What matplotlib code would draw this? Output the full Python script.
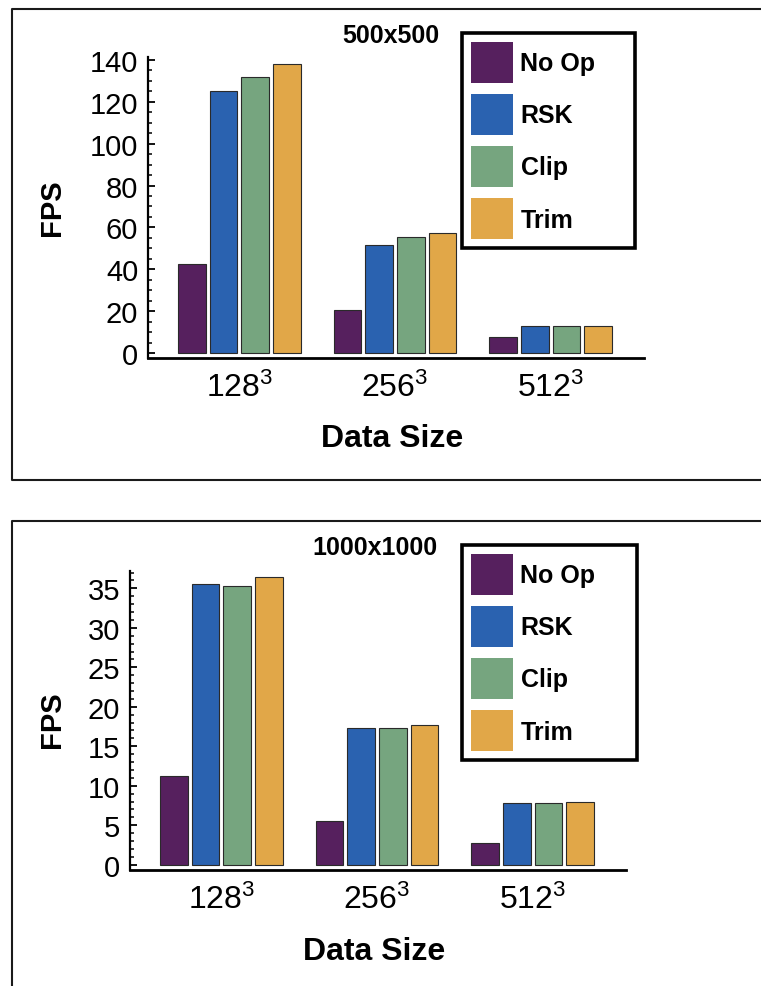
import matplotlib
matplotlib.use("Agg")
import matplotlib.pyplot as plt
import numpy as np
from matplotlib.patches import Patch
from matplotlib.lines import Line2D
from matplotlib.ticker import MultipleLocator

# ---- data ----
categories = [r'$\mathregular{128^3}$', r'$\mathregular{256^3}$', r'$\mathregular{512^3}$']
series = ['No Op', 'RSK', 'Clip', 'Trim']
colors = ['#56205e', '#2a62b0', '#76a57f', '#e1a748']

noop_500 = [42.5, 20.7, 7.5]
rsk_500 = [125.0, 51.6, 12.7]
clip_500 = [132.0, 55.4, 12.7]
trim_500 = [138.0, 57.3, 13.0]

noop_1000 = [11.2, 5.5, 2.7]
rsk_1000 = [35.5, 17.3, 7.8]
clip_1000 = [35.3, 17.3, 7.8]
trim_1000 = [36.5, 17.7, 8.0]

yticks_500 = [0, 20, 40, 60, 80, 100, 120, 140]
yticks_1000 = [0, 5, 10, 15, 20, 25, 30, 35]

plt.rcParams['font.family'] = ['Liberation Sans', 'DejaVu Sans']
plt.rcParams['mathtext.fontset'] = 'custom'
plt.rcParams['mathtext.rm'] = 'Liberation Sans'
plt.rcParams['mathtext.it'] = 'Liberation Sans:italic'
plt.rcParams['mathtext.bf'] = 'Liberation Sans:bold'

W, H = 761, 987
fig = plt.figure(figsize=(W / 100, H / 100), dpi=100)
fig.patch.set_facecolor('white')


def fx(px):
    return px / W


def fy(py):
    return 1 - py / H


# outer frames (scanned page boxes)
frame_kw = dict(color='#1a1a1a', linewidth=1.5, transform=fig.transFigure)
fig.add_artist(Line2D([fx(770), fx(12), fx(12), fx(770)],
                      [fy(10), fy(10), fy(481), fy(481)], **frame_kw))
fig.add_artist(Line2D([fx(770), fx(12), fx(12)],
                      [fy(522), fy(522), fy(995)], **frame_kw))


def draw_panel(rect, data, yticks, ylim, minor, title, title_xy,
               xlabel_xy, ylabel_xy, legend_box):
    ax = fig.add_axes(rect)
    x = np.arange(len(categories))
    pitch = 0.203
    width = 0.178
    for i, (vals, col) in enumerate(zip(data, colors)):
        ax.bar(x + (i - 1.5) * pitch, vals, width=width, color=col,
               edgecolor='#2a2a2a', linewidth=0.8, zorder=2)
    ax.set_xlim(-0.587, 2.60)
    ax.set_ylim(*ylim)
    ax.set_xticks(x)
    ax.set_xticklabels(categories, fontsize=23)
    ax.set_yticks(yticks)
    ax.set_yticklabels([str(t) for t in yticks], fontsize=21)
    ax.yaxis.set_minor_locator(MultipleLocator(minor))
    ax.tick_params(axis='x', length=0, pad=10)
    ax.tick_params(axis='y', which='major', direction='in', length=5,
                   width=1.3, pad=7)
    ax.tick_params(axis='y', which='minor', direction='in', length=3,
                   width=1.1)
    for s in ['top', 'right']:
        ax.spines[s].set_visible(False)
    ax.spines['left'].set_linewidth(1.6)
    ax.spines['bottom'].set_linewidth(2.0)
    ax.set_xlabel('Data Size', fontsize=23, fontweight='bold', va='center')
    ax.xaxis.set_label_coords(*xlabel_xy)
    ax.set_ylabel('FPS', fontsize=21, fontweight='bold', va='center')
    ax.yaxis.set_label_coords(*ylabel_xy)
    ax.text(title_xy[0], title_xy[1], title, transform=ax.transAxes,
            ha='center', va='center', fontsize=18, fontweight='bold')
    handles = [Patch(facecolor=c, edgecolor='none') for c in colors]
    leg = ax.legend(handles, series, loc='upper left',
                    bbox_to_anchor=legend_box, bbox_transform=fig.transFigure,
                    mode='expand', borderaxespad=0, fancybox=False,
                    framealpha=1, edgecolor='black',
                    prop={'weight': 'bold', 'size': 18},
                    handlelength=1.68, handleheight=2.15,
                    handletextpad=0.3, labelspacing=0.44, borderpad=0.36)
    leg.get_frame().set_linewidth(2.6)
    return ax


# top panel: axes 148..644 px, 58..359 px
draw_panel([fx(148), fy(359), fx(644) - fx(148), fy(58) - fy(359)],
           [noop_500, rsk_500, clip_500, trim_500],
           yticks_500, (-2.4, 141.4), 5, '500x500',
           (0.49, 1.073), (0.492, -0.265), (-0.1935, 0.502),
           (fx(462), fy(242), fx(635) - fx(462), fy(34) - fy(242)))

# bottom panel: axes 130..626 px, 572..871 px
draw_panel([fx(130), fy(871), fx(626) - fx(130), fy(572) - fy(871)],
           [noop_1000, rsk_1000, clip_1000, trim_1000],
           yticks_1000, (-0.67, 37.2), 1, '1000x1000',
           (0.494, 1.079), (0.492, -0.27), (-0.157, 0.5045),
           (fx(462), fy(761), fx(637) - fx(462), fy(546) - fy(761)))

fig.savefig('out.png', dpi=100, facecolor='white')
